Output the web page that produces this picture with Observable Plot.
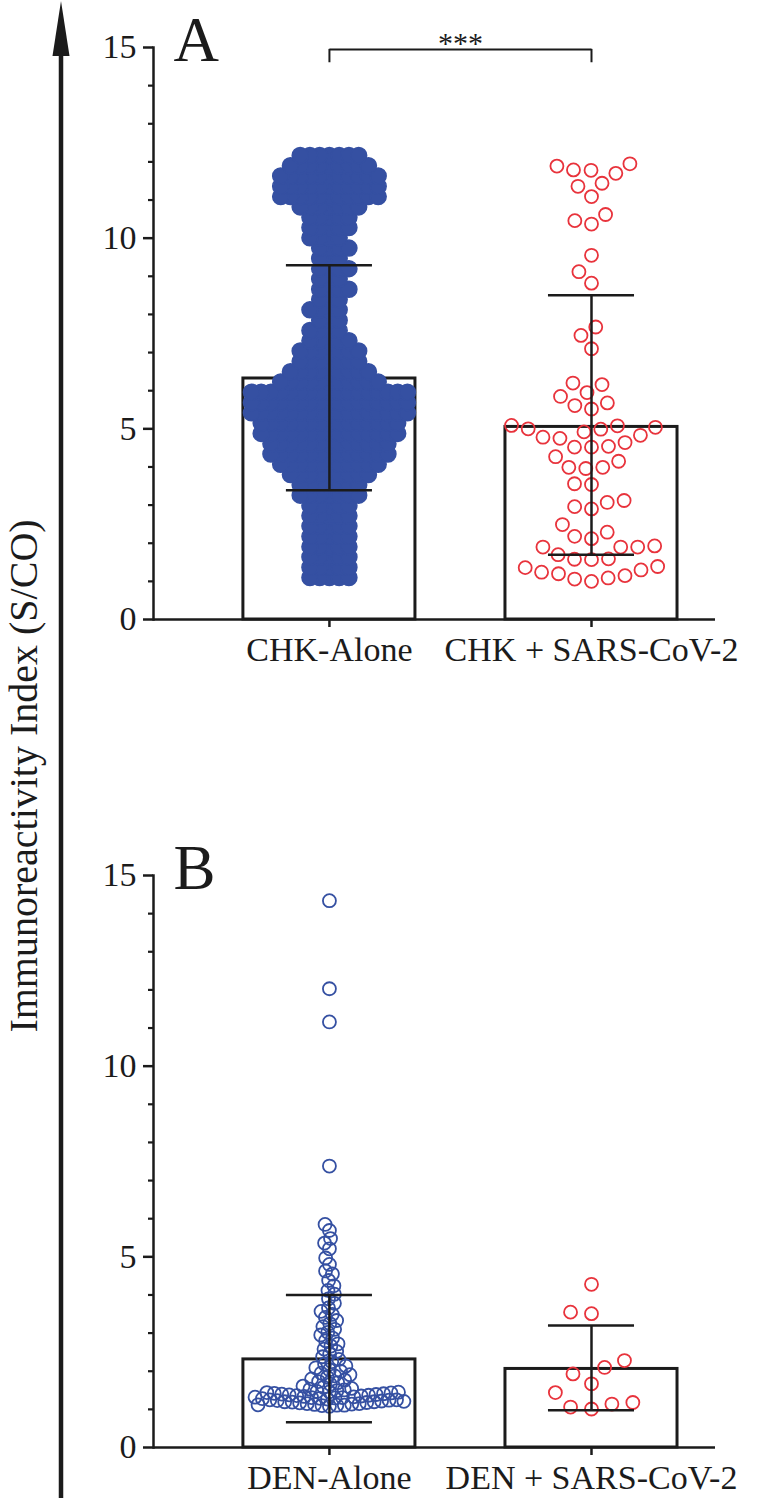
<!DOCTYPE html>
<html>
<head>
<meta charset="utf-8">
<script src="https://cdn.jsdelivr.net/npm/d3@7"></script>
<script src="https://cdn.jsdelivr.net/npm/@observablehq/plot@0.6"></script>
<style>
  html, body { margin: 0; padding: 0; background: #fff; }
  #fig { position: relative; width: 767px; height: 1498px; overflow: hidden;
         font-family: "Liberation Serif", "Times New Roman", serif; }
  #panelA { position: absolute; left: 0; top: 0; }
  #panelB { position: absolute; left: 0; top: 828px; }
  #overlay { position: absolute; left: 0; top: 0; }
</style>
</head>
<body>
<div id="fig">
  <div id="panelA"></div>
  <div id="panelB"></div>
  <svg id="overlay" width="767" height="1498"></svg>
</div>
<script>
// ---------------- data ----------------
const yLabel = "Immunoreactivity Index (S/CO)";
const panelLabels = ["A", "B"];
const significanceA = "***";
const yTicksMajor = [0, 5, 10, 15];
const yTicksMinor = [1, 2, 3, 4, 6, 7, 8, 9, 11, 12, 13, 14];

// Panel A
const categoriesA = ["CHK-Alone", "CHK + SARS-CoV-2"];
const meansA = [6.32, 5.05];
const errLowA = [3.39, 1.70];
const errHighA = [9.29, 8.50];
// CHK-Alone: thousands of overlapping points, read as a histogram (level, count)
const chkAloneLevels = [1.10, 1.37, 1.64, 1.91, 2.18, 2.45, 2.72, 2.99, 3.26, 3.53, 3.80, 4.07, 4.34, 4.61,
  4.88, 5.15, 5.42, 5.69, 5.96, 6.23, 6.50, 6.77, 7.04, 7.31, 7.58, 7.85, 8.12, 8.39, 8.66, 8.93, 9.20,
  9.47, 9.74, 10.01, 10.28, 10.55, 10.82, 11.09, 11.36, 11.63, 11.90, 12.17];
const chkAloneCounts = [5, 5, 5, 5, 5, 5, 5, 5, 7, 7, 9, 11, 13, 13,
  15, 15, 17, 17, 17, 11, 9, 7, 7, 5, 4, 3, 4, 3, 4, 3, 4,
  3, 4, 4, 5, 5, 7, 11, 11, 11, 9, 7];
const chkSarsValues = [11.95, 11.79, 11.70, 11.89, 11.78, 11.44, 11.36, 11.09, 10.46, 10.62, 10.37, 9.55,
  9.12, 8.82, 7.67, 7.45, 7.10, 6.16, 6.20, 5.95, 5.85, 5.68, 5.61, 5.52, 5.04, 5.09, 4.99, 5.08, 4.92,
  5.00, 4.78, 4.75, 4.52, 4.52, 4.54, 4.64, 4.83, 4.27, 3.99, 3.96, 3.99, 4.15, 3.56, 3.54, 3.12, 3.07,
  2.96, 2.90, 2.49, 2.29, 2.12, 2.18, 1.93, 1.90, 1.90, 1.90, 1.70, 1.58, 1.59, 1.57, 1.39, 1.36, 1.30,
  1.20, 1.15, 1.09, 1.24, 1.06, 1.00];

// Panel B
const categoriesB = ["DEN-Alone", "DEN + SARS-CoV-2"];
const meansB = [2.31, 2.06];
const errLowB = [0.66, 0.98];
const errHighB = [4.00, 3.20];
const denAloneValues = [1.08, 1.10, 1.11, 1.11, 1.13, 1.14, 1.15, 1.15, 1.17, 1.18, 1.19, 1.20, 1.20,
  1.22, 1.23, 1.24, 1.25, 1.25, 1.27, 1.28, 1.29, 1.30, 1.31, 1.31, 1.33, 1.34, 1.35, 1.36, 1.37, 1.38,
  1.39, 1.40, 1.41, 1.42, 1.43, 1.44, 1.46, 1.47, 1.49, 1.51, 1.53, 1.55, 1.58, 1.61, 1.12, 1.21, 1.32,
  1.45,
  1.66, 1.70, 1.73, 1.77, 1.80, 1.84, 1.88, 1.91, 1.95, 2.00, 2.04, 2.09, 2.14, 2.19, 2.25, 2.31,
  2.38, 2.45, 2.52, 2.58, 2.66, 2.72, 2.80, 2.87, 2.95, 3.02, 3.10, 3.17, 3.25, 3.33, 3.41, 3.49, 3.57,
  3.66, 3.78, 3.90, 4.02, 4.12, 4.24,
  4.38, 4.55, 4.63, 4.80, 4.97, 5.21, 5.36, 5.48, 5.69, 5.85,
  7.38, 11.16, 12.03, 14.34];
const denSarsValues = [4.28, 3.51, 3.55, 2.28, 2.10, 1.93, 1.67, 1.44, 1.18, 1.14, 1.06, 1.01];

// ---------------- drawing ----------------
const W = 767, ML = 153, MR = 52, MT = 47, PLOT_H = 572;
const FONT = '"Liberation Serif", "Times New Roman", serif';
const INK = "#1b1b1b", BLUE = "#3550a2", RED = "#e8333c";
const xBand = {type: "band", paddingInner: 0.3435, paddingOuter: 0.244, align: 0.703, round: false};

function makePanel({cats, means, lo, hi, groups, label, height, bracket}) {
  const xs = Plot.scale({x: {...xBand, domain: cats, range: [ML, W - MR]}});
  const frameMid = (ML + W - MR) / 2;
  // Plot already shifts marks on a band x scale by half a bandwidth,
  // so the dodged swarm only needs moving from the frame middle to the band start.
  const shift = (c) => xs.apply(c) - frameMid;
  const step = xs.apply(cats[1]) - xs.apply(cats[0]);
  const bars = cats.map((c, i) => ({cat: c, mean: means[i], lo: lo[i], hi: hi[i]}));

  const marks = [
    Plot.barY(bars, {x: "cat", y: "mean", fill: "none", stroke: INK, strokeWidth: 3})
  ];
  for (const g of groups) {
    marks.push(Plot.dot(g.values, Plot.dodgeX({anchor: "middle", padding: g.padding}, {
      y: (d) => d, r: g.r, fill: g.fill, stroke: g.stroke, strokeWidth: g.sw,
      dx: shift(g.cat)
    })));
  }
  marks.push(
    Plot.ruleX(bars, {x: "cat", y1: "lo", y2: "hi", stroke: INK, strokeWidth: 2.5}),
    Plot.tickY(bars, {x: "cat", y: "lo", stroke: INK, strokeWidth: 2.5, insetLeft: 43, insetRight: 43}),
    Plot.tickY(bars, {x: "cat", y: "hi", stroke: INK, strokeWidth: 2.5, insetLeft: 43, insetRight: 43}),
    Plot.ruleY([0], {stroke: INK, strokeWidth: 2.5}),
    Plot.frame({anchor: "left", stroke: INK, strokeWidth: 2.5}),
    Plot.axisY({ticks: yTicksMinor, tickSize: 5, tickFormat: () => "", stroke: INK, strokeWidth: 2.2, label: null}),
    Plot.axisY({ticks: yTicksMajor, tickSize: 10, tickPadding: 7, fontSize: 34, stroke: INK, strokeWidth: 2.5, label: null}),
    Plot.axisX({tickSize: 8, tickPadding: 9, fontSize: 34, stroke: INK, strokeWidth: 2.5, label: null}),
    Plot.text([label], {frameAnchor: "top-left", textAnchor: "start", lineAnchor: "bottom",
      dx: 20, dy: 13, fontSize: 63, fill: INK})
  );
  if (bracket) {
    const b = [{a: cats[0], b: cats[1], y: 14.95, y0: 14.6}];
    marks.push(
      Plot.link(b, {x1: "a", x2: "b", y1: "y", y2: "y", stroke: INK, strokeWidth: 2}),
      Plot.ruleX(b, {x: "a", y1: "y0", y2: "y", stroke: INK, strokeWidth: 2}),
      Plot.ruleX(b, {x: "b", y1: "y0", y2: "y", stroke: INK, strokeWidth: 2}),
      Plot.text(b, {x: "a", y: "y", text: () => bracket, dx: step / 2, dy: 4, lineAnchor: "bottom",
        fontSize: 30, fill: INK})
    );
  }
  return Plot.plot({
    width: W, height,
    marginLeft: ML, marginRight: MR, marginTop: MT, marginBottom: height - MT - PLOT_H,
    x: {...xBand, domain: cats},
    y: {domain: [0, 15]},
    style: {fontFamily: FONT, fontSize: "34px", color: INK, background: "transparent", overflow: "visible"},
    marks
  });
}

const chkAloneValues = chkAloneLevels.flatMap((v, i) => Array(chkAloneCounts[i]).fill(v));

document.getElementById("panelA").append(makePanel({
  cats: categoriesA, means: meansA, lo: errLowA, hi: errHighA, label: panelLabels[0], height: 828,
  bracket: significanceA,
  groups: [
    {cat: categoriesA[0], values: chkAloneValues, r: 8, padding: -6.25, fill: BLUE, stroke: BLUE, sw: 1.5},
    {cat: categoriesA[1], values: chkSarsValues.slice().sort(d3.ascending), r: 6.5, padding: 4, fill: "none", stroke: RED, sw: 1.8}
  ]
}));

document.getElementById("panelB").append(makePanel({
  cats: categoriesB, means: meansB, lo: errLowB, hi: errHighB, label: panelLabels[1], height: 670,
  bracket: null,
  groups: [
    {cat: categoriesB[0], values: denAloneValues, r: 6.5, padding: -5.5, fill: "none", stroke: BLUE, sw: 1.8},
    {cat: categoriesB[1], values: denSarsValues.slice().sort(d3.ascending), r: 6.5, padding: 8, fill: "none", stroke: RED, sw: 1.8}
  ]
}));

// shared axis arrow and label spanning both panels
const ov = d3.select("#overlay");
ov.append("line").attr("x1", 61).attr("x2", 61).attr("y1", 1498).attr("y2", 40)
  .attr("stroke", INK).attr("stroke-width", 4.5);
ov.append("polygon").attr("points", "61,1 52.5,56 69.5,56").attr("fill", INK);
ov.append("text").attr("transform", "translate(37,776) rotate(-90)")
  .attr("text-anchor", "middle").attr("font-family", FONT).attr("font-size", 40)
  .attr("fill", INK).text(yLabel);
</script>
</body>
</html>
